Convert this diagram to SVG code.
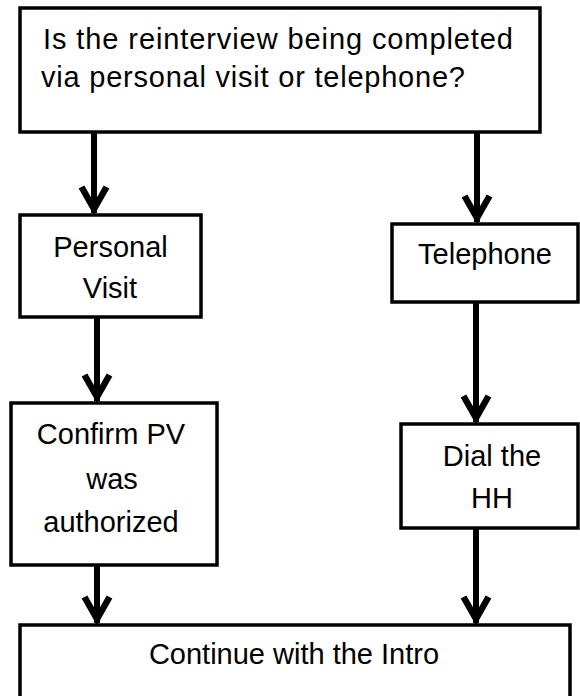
<svg xmlns="http://www.w3.org/2000/svg" width="580" height="696" viewBox="0 0 580 696">
<style>
.box{fill:#fff;stroke:#000;stroke-width:3.5}
.lbl{font-family:"Liberation Sans",Arial,sans-serif;font-size:29px;fill:#000}
.c{text-anchor:middle}
.edge{stroke:#000;stroke-width:6;fill:none}
</style>
<defs>
<marker id="ah" markerUnits="userSpaceOnUse" viewBox="-32 -16 36 32" markerWidth="36" markerHeight="32" refX="0" refY="0" orient="auto" overflow="visible">
<path d="M-26,-12.5 L-4,0 L-26,12.5" fill="none" stroke="#000" stroke-width="6.5"/>
</marker>
</defs>
<rect width="580" height="696" fill="#fff"/>
<g id="q">
<rect class="box" x="20" y="8" width="520" height="124"/>
<text class="lbl" x="43" y="49" font-size="30" textLength="470">Is the reinterview being completed</text>
<text class="lbl" x="41" y="87" font-size="30" textLength="424">via personal visit or telephone?</text>
</g>
<g id="pv">
<rect class="box" x="20" y="215" width="181" height="102"/>
<text class="lbl c" x="110.5" y="257">Personal</text>
<text class="lbl c" x="110" y="298">Visit</text>
</g>
<g id="tel">
<rect class="box" x="392" y="224" width="186" height="78"/>
<text class="lbl c" x="485" y="264">Telephone</text>
</g>
<g id="confirm">
<rect class="box" x="11" y="403" width="206" height="162"/>
<text class="lbl c" x="111" y="444">Confirm PV</text>
<text class="lbl c" x="112" y="489">was</text>
<text class="lbl c" x="111" y="532">authorized</text>
</g>
<g id="dial">
<rect class="box" x="401" y="424" width="177" height="104"/>
<text class="lbl c" x="492" y="466">Dial the</text>
<text class="lbl c" x="492" y="508">HH</text>
</g>
<g id="intro">
<rect class="box" x="20" y="625" width="550" height="90"/>
<text class="lbl c" x="294" y="664">Continue with the Intro</text>
</g>
<g id="connectors">
<line class="edge" x1="94" y1="132" x2="94" y2="213" marker-end="url(#ah)"/>
<line class="edge" x1="477" y1="132" x2="477" y2="222" marker-end="url(#ah)"/>
<line class="edge" x1="97" y1="317" x2="97" y2="401" marker-end="url(#ah)"/>
<line class="edge" x1="476" y1="302" x2="476" y2="422" marker-end="url(#ah)"/>
<line class="edge" x1="97" y1="565" x2="97" y2="623" marker-end="url(#ah)"/>
<line class="edge" x1="476" y1="528" x2="476" y2="623" marker-end="url(#ah)"/>
</g>
</svg>
